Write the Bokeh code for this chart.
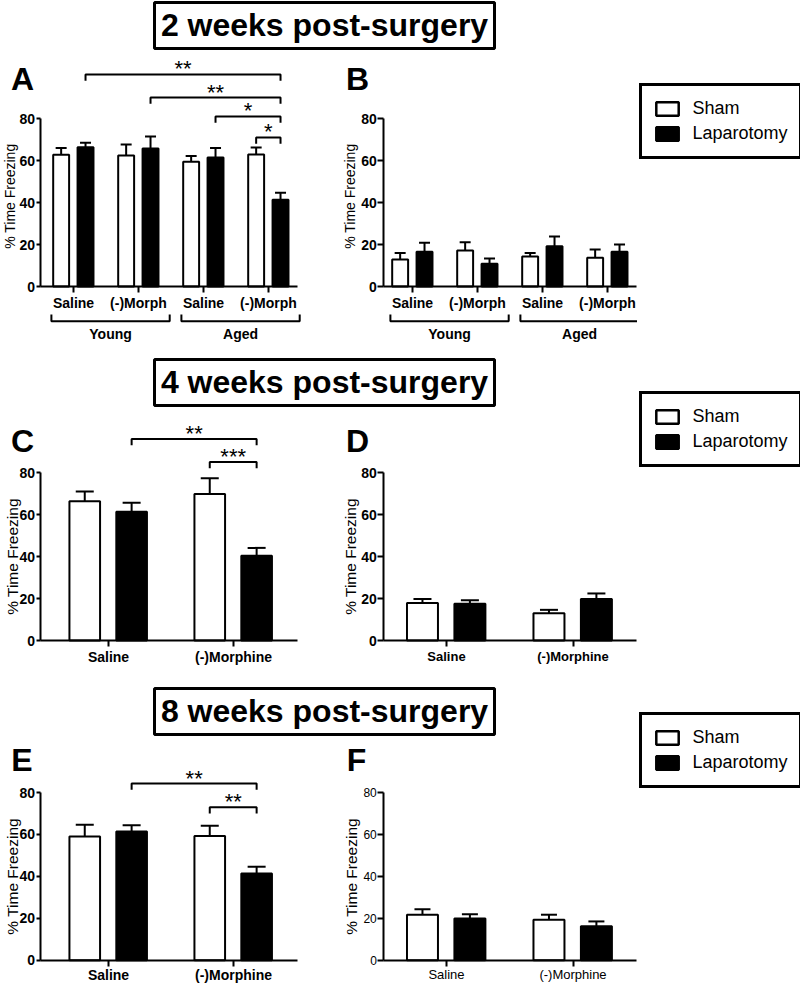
import math
from bokeh.plotting import figure
from bokeh.layouts import row, column
from bokeh.models import Range1d, FixedTicker, Legend, LegendItem, Spacer
from bokeh.core.properties import value
from bokeh.embed import file_html
from bokeh.resources import INLINE

FONT = "Liberation Sans"

# ---------------- data ----------------
titles = ["2 weeks post-surgery", "4 weeks post-surgery", "8 weeks post-surgery"]
series_names = ["Sham", "Laparotomy"]
treat_short = ["Saline", "(-)Morph", "Saline", "(-)Morph"]
age_groups = ["Young", "Aged"]
age_group_ticks = [[1, 2], [3, 4]]
treat_long = ["Saline", "(-)Morphine"]
ytick_values = [0, 20, 40, 60, 80]

a_sham = [62.7, 62.4, 59.4, 62.9]
a_sham_err = [3.3, 5.2, 2.8, 3.3]
a_lap = [66.3, 65.7, 61.4, 41.3]
a_lap_err = [2.1, 5.7, 4.6, 3.3]

b_sham = [12.9, 17.1, 14.3, 13.7]
b_sham_err = [3.1, 4.0, 1.7, 3.9]
b_lap = [16.5, 10.8, 19.2, 16.5]
b_lap_err = [4.3, 2.5, 4.6, 3.5]

c_sham = [66.3, 69.8]
c_sham_err = [4.7, 7.5]
c_lap = [61.3, 40.3]
c_lap_err = [4.3, 3.8]

d_sham = [17.9, 13.0]
d_sham_err = [1.9, 1.6]
d_lap = [17.5, 19.8]
d_lap_err = [1.7, 2.6]

e_sham = [59.0, 59.3]
e_sham_err = [5.6, 4.8]
e_lap = [61.4, 41.4]
e_lap_err = [3.0, 3.2]

f_sham = [21.7, 19.3]
f_sham_err = [2.6, 2.4]
f_lap = [19.9, 16.2]
f_lap_err = [2.0, 2.3]

# significance brackets: (group_from, series_from, group_to, series_to, height, label)
a_sig = [(1, 1, 4, 1, 101, "**"), (2, 1, 4, 1, 90, "**"),
         (3, 1, 4, 1, 81, "*"), (4, 0, 4, 1, 71, "*")]
c_sig = [(1, 1, 2, 1, 96, "**"), (2, 0, 2, 1, 85, "***")]
e_sig = [(1, 1, 2, 1, 84.3, "**"), (2, 0, 2, 1, 73, "**")]

# ---------------- styling ----------------
OFFS = [-0.19, 0.185]
BAR_W = 0.245
FILLS = ["white", "black"]


def make_panel(w, h, ppx, ppy, tick1, zero, axis_px, axis_end_px, labels,
               sham, sham_err, lap, lap_err,
               xsize, xstyle, ysize, ystyle, ytick_out,
               ylab_size, ylab_px, ylab_val,
               letter, letter_px, letter_val,
               sig=(), cap_px=11, groups=None, xstandoff=2):
    x0 = 1 - tick1 / ppx
    y0 = -zero / ppy
    p = figure(width=w, height=h,
               x_range=Range1d(x0, x0 + w / ppx),
               y_range=Range1d(y0, y0 + h / ppy),
               toolbar_location=None, output_backend="svg",
               min_border_left=0, min_border_right=0,
               min_border_top=0, min_border_bottom=0,
               outline_line_color=None)
    p.grid.visible = False

    def px2x(px):
        return x0 + px / ppx

    ax_x = px2x(axis_px)
    ax_end = px2x(axis_end_px)
    centers = list(range(1, len(labels) + 1))

    xa = p.xaxis[0]
    xa.fixed_location = 0
    xa.bounds = (ax_x, ax_end)
    xa.ticker = FixedTicker(ticks=centers)
    xa.major_label_overrides = {c: lab for c, lab in zip(centers, labels)}
    xa.major_tick_out = 6
    xa.major_tick_in = 0
    xa.major_label_standoff = xstandoff
    xa.major_label_text_font_size = xsize
    xa.major_label_text_font_style = xstyle

    ya = p.yaxis[0]
    ya.fixed_location = ax_x
    ya.bounds = (0, 80)
    ya.ticker = FixedTicker(ticks=ytick_values)
    ya.major_tick_out = ytick_out
    ya.major_tick_in = 0
    ya.major_label_standoff = 1
    ya.major_label_text_font_size = ysize
    ya.major_label_text_font_style = ystyle

    for ax in (xa, ya):
        ax.axis_line_width = 2
        ax.axis_line_color = "black"
        ax.major_tick_line_width = 2
        ax.major_tick_line_color = "black"
        ax.minor_tick_line_color = None
        ax.major_label_text_font = FONT
        ax.major_label_text_color = "black"

    cap = cap_px / 2 / ppx
    for s, (vals, errs) in enumerate([(sham, sham_err), (lap, lap_err)]):
        xs = [c + OFFS[s] for c in centers]
        tops = [v + e for v, e in zip(vals, errs)]
        p.segment(x0=xs, y0=vals, x1=xs, y1=tops, line_width=2, line_color="black")
        p.segment(x0=[x - cap for x in xs], y0=tops, x1=[x + cap for x in xs], y1=tops,
                  line_width=2, line_color="black")
        p.vbar(x=xs, top=vals, bottom=0, width=BAR_W, fill_color=FILLS[s],
               line_color="black", line_width=2)

    # significance brackets
    leg = 3.0
    for g1, s1, g2, s2, hgt, lab in sig:
        xa_ = g1 + OFFS[s1]
        xb_ = g2 + OFFS[s2]
        p.multi_line(xs=[[xa_, xa_, xb_, xb_]], ys=[[hgt - leg, hgt, hgt, hgt - leg]],
                     line_width=2, line_color="black")
        p.text(x=[(xa_ + xb_) / 2], y=[hgt + 2.6], text=[lab], text_align="center",
               text_baseline="middle", text_font=value(FONT), text_font_size="22px",
               text_color="black")

    # grouping brackets under the axis
    if groups is not None:
        names, gticks = groups
        for name, tk in zip(names, gticks):
            xl = tk[0] - 0.34
            xr = tk[-1] + 0.48
            p.multi_line(xs=[[xl, xl, xr, xr]], ys=[[-13.3, -16.5, -16.5, -13.3]],
                         line_width=2, line_color="black")
            p.text(x=[(xl + xr) / 2], y=[-22.4], text=[name], text_align="center",
                   text_baseline="middle", text_font=value(FONT),
                   text_font_style="bold", text_font_size="14px", text_color="black")

    # y-axis title
    p.text(x=[px2x(ylab_px)], y=[ylab_val], text=["% Time Freezing"], angle=math.pi / 2,
           text_align="center", text_baseline="middle", text_font=value(FONT),
           text_font_size=ylab_size, text_color="black")
    # panel letter
    p.text(x=[px2x(letter_px)], y=[letter_val], text=[letter], text_align="center",
           text_baseline="middle", text_font=value(FONT), text_font_style="bold",
           text_font_size="32px", text_color="black")
    return p


def title_fig(text):
    t = figure(width=344, height=50, x_range=Range1d(0, 340), y_range=Range1d(0, 46),
               x_axis_location=None, y_axis_location=None,
               min_border_left=2, min_border_right=2, min_border_top=2, min_border_bottom=2,
               toolbar_location=None, output_backend="svg",
               outline_line_color="black", outline_line_width=3)
    t.grid.visible = False
    t.text(x=[170], y=[23.5], text=[text], text_align="center", text_baseline="middle",
           text_font=value(FONT), text_font_style="bold", text_font_size="32px",
           text_color="black")
    return t


LEG_W = 163
LEG_H = 73


def legend_fig(height, vy, sham, lap):
    # The bars of this helper plot are scaled to sit entirely behind the opaque
    # legend box, so that only the legend entries themselves are visible.
    n = len(sham)
    ppx = (LEG_W - 40) / n
    xs0 = 0.5 - 20 / ppx
    vmax = max(sham + lap)
    ppy = (LEG_H - 24) / vmax
    ys0 = -(vy + 12) / ppy
    lf = figure(width=LEG_W, height=height,
                x_range=Range1d(xs0, xs0 + LEG_W / ppx),
                y_range=Range1d(ys0, ys0 + height / ppy),
                x_axis_location=None, y_axis_location=None,
                min_border_left=0, min_border_right=0, min_border_top=0, min_border_bottom=0,
                toolbar_location=None, output_backend="svg", outline_line_color=None)
    lf.grid.visible = False
    rs = []
    for s, vals in enumerate([sham, lap]):
        xs = [c + OFFS[s] for c in range(1, n + 1)]
        rs.append(lf.vbar(x=xs, top=vals, bottom=0, width=BAR_W, fill_color=FILLS[s],
                          line_color="black", line_width=2.5))
    lg = Legend(items=[LegendItem(label=series_names[i], renderers=[rs[i]]) for i in range(2)],
                location=(1.5, vy), border_line_color="black", border_line_width=3,
                border_line_alpha=1, background_fill_color="white", background_fill_alpha=1,
                label_text_font=FONT, label_text_font_size="18px", label_text_color="black",
                glyph_width=28, glyph_height=17, label_standoff=12, padding=11,
                spacing=2, label_height=23, margin=0)
    lf.add_layout(lg)
    return lf


A = make_panel(320, 307, 65, 2.1, 73, 71, 39.5, 297, treat_short,
               a_sham, a_sham_err, a_lap, a_lap_err,
               "14px", "bold", "14px", "bold", 4,
               "14px", 9, 43, "A", 22, 98.6, sig=a_sig, cap_px=11,
               groups=(age_groups, age_group_ticks))
B = make_panel(317, 307, 65, 2.1, 92, 71, 63.3, 316, treat_short,
               b_sham, b_sham_err, b_lap, b_lap_err,
               "14px", "bold", "14px", "bold", 6,
               "14px", 29.5, 43, "B", 37, 98.6, cap_px=11,
               groups=(age_groups, age_group_ticks))
C = make_panel(320, 279, 125, 2.1, 108, 46, 39.5, 297, treat_long,
               c_sham, c_sham_err, c_lap, c_lap_err,
               "14px", "bold", "14px", "bold", 4,
               "15.5px", 12, 40, "C", 22, 95, sig=c_sig, cap_px=18)
D = make_panel(317, 279, 126.5, 2.1, 126, 46, 63.3, 316, treat_long,
               d_sham, d_sham_err, d_lap, d_lap_err,
               "13px", "bold", "14px", "bold", 6,
               "15.5px", 30, 40, "D", 37, 95, cap_px=18)
E = make_panel(320, 248, 125, 2.096, 108, 24.3, 39.5, 297, treat_long,
               e_sham, e_sham_err, e_lap, e_lap_err,
               "14px", "bold", "14px", "bold", 4,
               "15.5px", 12, 40, "E", 21.5, 95.5, sig=e_sig, cap_px=18, xstandoff=1)
F = make_panel(317, 248, 126.5, 2.096, 126, 24.3, 63.3, 316, treat_long,
               f_sham, f_sham_err, f_lap, f_lap_err,
               "13px", "normal", "12px", "normal", 6,
               "15.5px", 31, 40, "F", 36, 95.5, cap_px=16, xstandoff=1)

sec1 = row(column(row(Spacer(width=152, height=50), title_fig(titles[0])), row(A, B)),
           legend_fig(357, 198, b_sham, b_lap))
sec2 = row(column(row(Spacer(width=152, height=50), title_fig(titles[1])), row(C, D)),
           legend_fig(329, 219, d_sham, d_lap))
sec3 = row(column(row(Spacer(width=152, height=50), title_fig(titles[2])), row(E, F)),
           legend_fig(298, 196, f_sham, f_lap))
page = column(sec1, sec2, sec3)

open("out.html", "w").write(file_html(page, INLINE))
